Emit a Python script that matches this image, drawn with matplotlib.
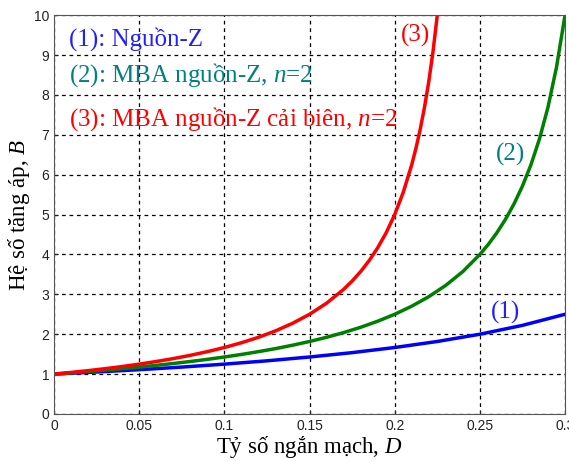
import matplotlib
matplotlib.use("Agg")
import matplotlib.pyplot as plt

plt.rcParams["mathtext.fontset"] = "custom"
plt.rcParams["mathtext.it"] = "Liberation Serif:italic"
plt.rcParams["mathtext.rm"] = "Liberation Serif"

# Values
D1 = [0, 0.025, 0.05, 0.075, 0.1, 0.125, 0.15, 0.175, 0.2, 0.225, 0.25, 0.275, 0.3]
B1 = [1.0, 1.053, 1.111, 1.176, 1.25, 1.333, 1.429, 1.538, 1.667, 1.818, 2.0, 2.222, 2.5]

D2 = [0, 0.01, 0.02, 0.03, 0.04, 0.05, 0.06, 0.07, 0.08, 0.09, 0.10, 0.11, 0.12, 0.13,
      0.14, 0.15, 0.16, 0.17, 0.18, 0.19, 0.20, 0.21, 0.22, 0.23, 0.24, 0.25, 0.255,
      0.26, 0.265, 0.27, 0.275, 0.28, 0.285, 0.29, 0.295, 0.3]
B2 = [1.0, 1.031, 1.064, 1.099, 1.136, 1.176, 1.220, 1.266, 1.316, 1.370, 1.429, 1.493,
      1.563, 1.639, 1.724, 1.818, 1.923, 2.041, 2.174, 2.326, 2.5, 2.703, 2.941, 3.226,
      3.571, 4.0, 4.255, 4.545, 4.878, 5.263, 5.714, 6.25, 6.897, 7.692, 8.696, 10.0]

D3 = [0, 0.01, 0.02, 0.03, 0.04, 0.05, 0.06, 0.07, 0.08, 0.09, 0.10, 0.11, 0.12, 0.13,
      0.14, 0.15, 0.16, 0.17, 0.175, 0.18, 0.185, 0.19, 0.195, 0.20, 0.205, 0.21,
      0.2125, 0.215, 0.2175, 0.22, 0.2225, 0.225]
B3 = [1.0, 1.042, 1.087, 1.136, 1.190, 1.25, 1.316, 1.389, 1.471, 1.563, 1.667, 1.786,
      1.923, 2.083, 2.273, 2.5, 2.778, 3.125, 3.333, 3.571, 3.846, 4.167, 4.545, 5.0,
      5.556, 6.25, 6.667, 7.143, 7.692, 8.333, 9.091, 10.0]

xticks = [0, 0.05, 0.1, 0.15, 0.2, 0.25, 0.3]
xticklabels = ["0", "0.05", "0.1", "0.15", "0.2", "0.25", "0.3"]
yticks = list(range(0, 11))

fig = plt.figure(figsize=(5.69, 4.61), dpi=100)
ax = fig.add_axes([0.095, 0.102, 0.898, 0.865])

ax.plot(D1, B1, color="#0000ff", lw=2.5)
ax.plot(D2, B2, color="#008000", lw=2.5)
ax.plot(D3, B3, color="#ff0000", lw=2.5)

ax.set_xlim(0, 0.3)
ax.set_ylim(0, 10)
ax.set_xticks(xticks)
ax.set_xticklabels(xticklabels)
ax.set_yticks(yticks)
ax.tick_params(direction="in", length=3, labelsize=10, colors="#222222")
for lab in ax.get_xticklabels() + ax.get_yticklabels():
    lab.set_fontfamily("Liberation Sans")
ax.grid(True, color="black", linestyle=(0, (3, 3)), linewidth=0.9)
for s in ax.spines.values():
    s.set_color("#555555")

serif = "Liberation Serif"
ax.set_xlabel(r"Tỷ số ngắn mạch, $\it{D}$", fontsize=16.5, family=serif, labelpad=1)
ax.set_ylabel(r"Hệ số tăng áp, $\it{B}$", fontsize=16.5, family=serif, labelpad=1)

fs = 18
ax.text(0.009, 9.4, "(1): Nguồn-Z", color="#2020ff", fontsize=fs, family=serif, va="center")
ax.text(0.009, 8.5, "(2): MBA nguồn-Z, $\\it{n}$=2", color="#008080", fontsize=fs, family=serif, va="center")
ax.text(0.009, 7.4, "(3): MBA nguồn-Z cải biên, $\\it{n}$=2", color="#ff0000", fontsize=fs, family=serif, va="center")
ax.text(0.212, 9.5, "(3)", color="#ff0000", fontsize=fs, family=serif, ha="center", va="center")
ax.text(0.268, 6.5, "(2)", color="#008080", fontsize=fs, family=serif, ha="center", va="center")
ax.text(0.265, 2.55, "(1)", color="#2020ff", fontsize=fs, family=serif, ha="center", va="center")

fig.savefig("out.png", dpi=100)
